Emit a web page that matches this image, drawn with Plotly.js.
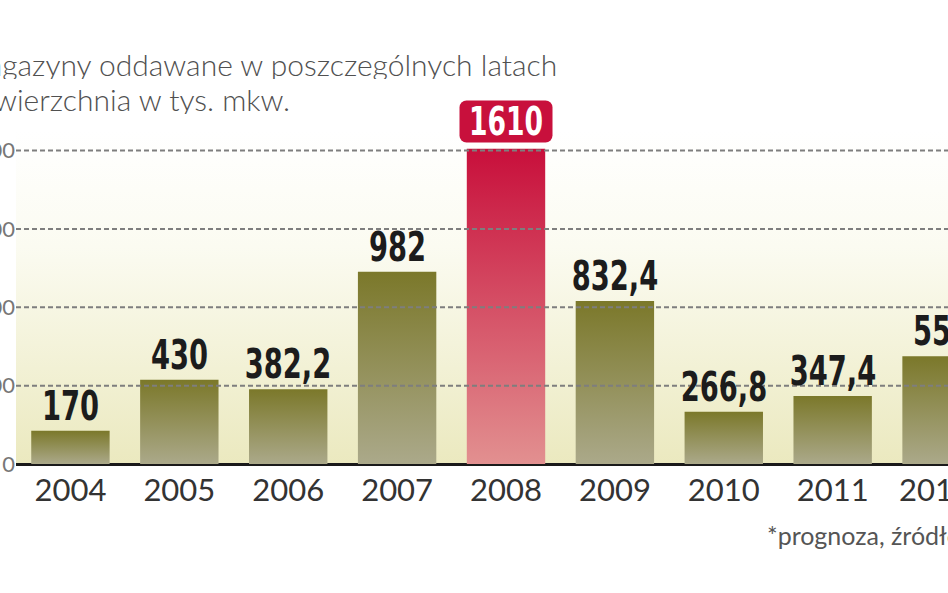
<!DOCTYPE html>
<html>
<head>
<meta charset="utf-8">
<script src="https://cdn.plot.ly/plotly-3.0.1.min.js"></script>
<style>
  html, body { margin: 0; padding: 0; width: 948px; height: 593px; overflow: hidden; background: #ffffff; }
  #chart { position: absolute; left: -44px; top: 0; width: 1060px; height: 593px; }
</style>
</head>
<body>
<div id="chart"></div>
<script>
// ---- data ----
const years = ['2004', '2005', '2006', '2007', '2008', '2009', '2010', '2011', '2012'];
const yearLabels = ['2004', '2005', '2006', '2007', '2008', '2009', '2010', '2011', '2012*'];
const values = [170, 430, 382.2, 982, 1610, 832.4, 266.8, 347.4, 550];
const valueLabels = ['170', '430', '382,2', '982', '1610', '832,4', '266,8', '347,4', '550'];
const yTicks = [0, 400, 800, 1200, 1600];
const yTickLabels = ['0', '400', '800', '1200', '1600'];
const highlightYear = '2008';
const titleLines = ['Magazyny oddawane w poszczególnych latach', 'Powierzchnia w tys. mkw.'];
const noteText = '*prognoza, źródło:';

const olive = '#8f8d4a';
const red = '#d23a55';
const labelFont = "'Liberation Sans Narrow', 'DejaVu Sans Condensed', sans-serif";

const barColors = years.map(y => y === highlightYear ? red : olive);

const trace = {
  type: 'bar',
  x: years,
  y: values,
  marker: { color: barColors, line: { width: 0 } },
  hoverinfo: 'skip'
};

const annotations = [];
years.forEach((y, i) => {
  if (y === highlightYear) {
    annotations.push({
      x: i, y: values[i], xref: 'x', yref: 'y',
      text: valueLabels[i], showarrow: false,
      xanchor: 'center', yanchor: 'bottom', yshift: 6,
      width: 92, height: 41, bgcolor: '#c8103c', borderpad: 0,
      font: { family: labelFont, size: 39, color: '#ffffff', weight: 'bold' }
    });
  } else {
    annotations.push({
      x: i, y: values[i], xref: 'x', yref: 'y',
      text: valueLabels[i], showarrow: false,
      xanchor: 'center', yanchor: 'bottom', yshift: 0,
      font: { family: labelFont, size: 40, color: '#1c1c1c', weight: 'bold' }
    });
  }
});
// title lines
const titleY = [1.204, 1.099];
titleLines.forEach((t, k) => {
  annotations.push({
    xref: 'paper', yref: 'paper', x: -0.0571, y: titleY[k],
    xanchor: 'left', yanchor: 'middle', showarrow: false,
    height: 31, borderpad: 0,
    text: t,
    font: { family: 'Lato, sans-serif', size: 30, color: '#505050', weight: 300 }
  });
});
annotations.push({
  xref: 'paper', yref: 'paper', x: 0.764, y: -0.213,
  xanchor: 'left', yanchor: 'middle', showarrow: false,
  text: noteText,
  font: { family: 'Lato, sans-serif', size: 25, color: '#555555' }
});

const shapes = yTicks.filter(v => v !== 0).map(v => ({
  type: 'line', xref: 'paper', x0: 0, x1: 1, yref: 'y', y0: v, y1: v,
  layer: 'above',
  line: { color: '#7e7e7e', width: 2, dash: '5px,3px' }
}));

const layout = {
  width: 1060, height: 593,
  margin: { l: 60, r: 20, t: 131, b: 129 },
  paper_bgcolor: '#ffffff',
  plot_bgcolor: '#f5f4dc',
  showlegend: false,
  bargap: 0.28,
  xaxis: {
    type: 'category',
    range: [-0.5, 8.5],
    tickvals: years, ticktext: yearLabels,
    showgrid: false, zeroline: false, showline: false, ticks: '',
    ticklabelstandoff: 5,
    tickfont: { family: 'Lato, sans-serif', size: 31, color: '#333333' },
    fixedrange: true
  },
  yaxis: {
    range: [0, 1700],
    tickvals: yTicks, ticktext: yTickLabels,
    showgrid: false, ticks: '',
    zeroline: true, zerolinecolor: '#1a1a1a', zerolinewidth: 3,
    tickfont: { family: 'Lato, sans-serif', size: 22, color: '#777777' },
    fixedrange: true
  },
  annotations: annotations,
  shapes: shapes
};

function finishStyling(gd) {
  const ns = 'http://www.w3.org/2000/svg';
  const svg = gd.querySelector('.main-svg');
  let defs = svg.querySelector('defs');
  if (!defs) { defs = document.createElementNS(ns, 'defs'); svg.insertBefore(defs, svg.firstChild); }
  function grad(id, stops) {
    if (svg.querySelector('#' + id)) return;
    const g = document.createElementNS(ns, 'linearGradient');
    g.setAttribute('id', id);
    g.setAttribute('x1', '0'); g.setAttribute('y1', '0');
    g.setAttribute('x2', '0'); g.setAttribute('y2', '1');
    stops.forEach(([o, c]) => {
      const s = document.createElementNS(ns, 'stop');
      s.setAttribute('offset', o); s.setAttribute('stop-color', c);
      g.appendChild(s);
    });
    defs.appendChild(g);
  }
  grad('gOlive', [['0', '#7b782a'], ['1', '#aba98a']]);
  grad('gRed', [['0', '#c80f3b'], ['1', '#e29090']]);
  grad('gBg', [['0', '#ffffff'], ['0.35', '#fbfbf1'], ['1', '#ebe9bf']]);
  gd.querySelectorAll('.trace.bars .point path').forEach((p, i) => {
    p.style.fill = years[i] === highlightYear ? 'url(#gRed)' : 'url(#gOlive)';
  });
  const bg = gd.querySelector('.bglayer .bg');
  if (bg) bg.style.fill = 'url(#gBg)';

  // narrow (condensed) bar value labels, rounded highlight box
  gd.querySelectorAll('.annotation').forEach(a => {
    const idx = +a.getAttribute('data-index');
    if (idx < years.length) {
      const t = a.querySelector('text.annotation-text');
      if (t) {
        const w = t.getComputedTextLength();
        t.setAttribute('textLength', (w * 0.76).toFixed(1));
        t.setAttribute('lengthAdjust', 'spacingAndGlyphs');
      }
      if (years[idx] === highlightYear) {
        const r = a.querySelector('rect.bg');
        if (r) { r.setAttribute('rx', '7'); r.setAttribute('ry', '7'); }
      }
    }
  });
}

Plotly.newPlot('chart', [trace], layout, { staticPlot: true, displayModeBar: false })
  .then(finishStyling);
</script>
</body>
</html>
